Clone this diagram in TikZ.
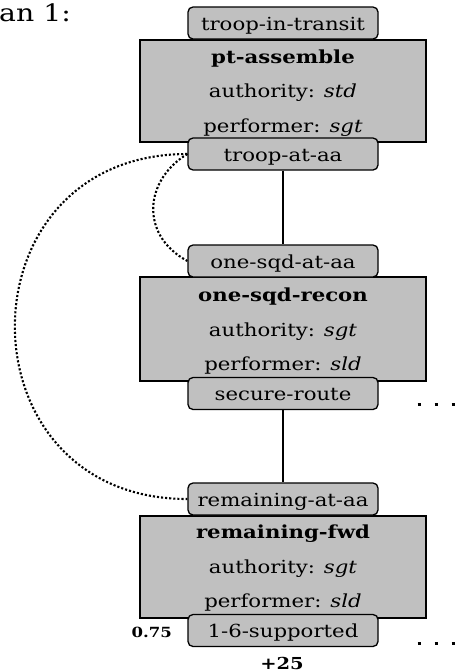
\documentclass[tikz,border=0pt]{standalone}
\usepackage{fontspec}
\setmainfont{DejaVu Serif}[FakeStretch=1.18]
\definecolor{boxgray}{RGB}{192,192,192}
\begin{document}
\begin{tikzpicture}[x=1pt,y=-1pt,
  statebox/.style={draw=black, line width=1.3pt, fill=boxgray, rounded corners=5pt,
    minimum width=190pt, minimum height=32pt, inner sep=0pt,
    text height=16pt, text depth=2pt, font=\fontsize{18}{21}\selectfont},
  actbox/.style={draw=black, line width=1.3pt, fill=boxgray, minimum width=286pt, inner sep=0pt},
  acttext/.style={anchor=base, inner sep=0pt, font=\fontsize{18}{21}\selectfont},
  link/.style={line width=2.8pt},
  dep/.style={line width=2.1pt, dash pattern=on 2.1pt off 2pt},
  ellip/.style={line width=3pt, dash pattern=on 3pt off 14pt}]
\useasboundingbox (0,0) rectangle (455,672);

\node[font=\fontsize{24}{27}\selectfont, anchor=base west, inner sep=0pt] (title) at (-1,21) {an 1:};

% activity 1
\node[actbox, minimum height=102pt] (a1) at (283,91) {};
\node[statebox] (s0) at (283,23) {troop-in-transit};
\node[statebox] (s1) at (283,154) {troop-at-aa};
\node[acttext] (a1n) at (283,63.5) {\textbf{pt-assemble}};
\node[acttext] (a1a) at (283,97.5) {authority: \textit{std}};
\node[acttext] (a1p) at (283,132) {performer: \textit{sgt}};

% activity 2
\node[actbox, minimum height=104pt] (a2) at (283,329) {};
\node[statebox] (s2) at (283,261) {one-sqd-at-aa};
\node[statebox] (s3) at (283,393.5) {secure-route};
\node[acttext] (a2n) at (283,301) {\textbf{one-sqd-recon}};
\node[acttext] (a2a) at (283,336) {authority: \textit{sgt}};
\node[acttext] (a2p) at (283,370) {performer: \textit{sld}};

% activity 3
\node[actbox, minimum height=102pt] (a3) at (283,567) {};
\node[statebox] (s4) at (283,499) {remaining-at-aa};
\node[statebox] (s5) at (283,630.5) {1-6-supported};
\node[acttext] (a3n) at (283,538.5) {\textbf{remaining-fwd}};
\node[acttext] (a3a) at (283,573) {authority: \textit{sgt}};
\node[acttext] (a3p) at (283,607) {performer: \textit{sld}};

\node[font=\bfseries\fontsize{14}{16}\selectfont, anchor=base east, inner sep=0pt] (w) at (172,637) {0.75};
\node[font=\bfseries\fontsize{16.5}{19}\selectfont, anchor=base, inner sep=0pt] (u) at (282,669) {+25};

% connectors
\draw[link] (s1.south) -- (s2.north);
\draw[link] (s3.south) -- (s4.north);
\draw[dep] (s1.west) .. controls +(-43,26) and +(-48,-26) .. (s2.west);
\draw[dep] (s1.west) .. controls +(-230,0) and +(-230,0) .. (s4.west);

\coordinate (e1a) at (417.5,404);
\coordinate (e1b) at (457,404);
\coordinate (e2a) at (417.5,643);
\coordinate (e2b) at (457,643);
\draw[ellip] (e1a) -- (e1b);
\draw[ellip] (e2a) -- (e2b);
\end{tikzpicture}
\end{document}
